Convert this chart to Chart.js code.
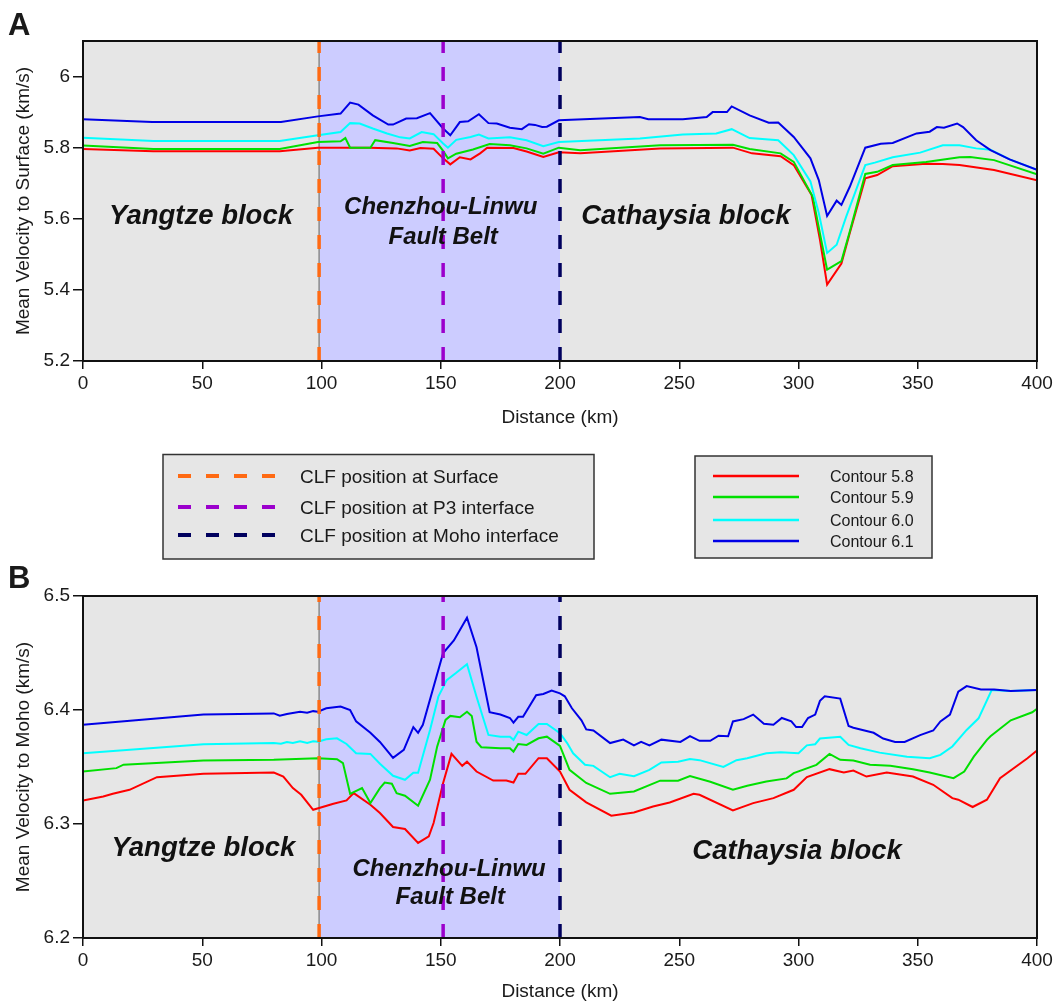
<!DOCTYPE html>
<html>
<head>
<meta charset="utf-8">
<script src="https://cdn.jsdelivr.net/npm/chart.js@4.4.1/dist/chart.umd.min.js"></script>
<style>
  body{margin:0;background:#fff;width:1059px;height:1004px;position:relative;overflow:hidden;font-family:'Liberation Sans',Arial,sans-serif}
  canvas{position:absolute;left:0}
  #surf{top:0}
  #moho{top:545px}
  svg{position:absolute;left:0;top:0}
  svg text{fill:#1a1a1a}
</style>
</head>
<body>
<canvas id="surf" width="1059" height="440"></canvas>
<canvas id="moho" width="1059" height="459"></canvas>
<svg width="1059" height="1004">
  <text x="8" y="35" font-size="31" font-weight="bold">A</text>
  <text x="8" y="588" font-size="31" font-weight="bold">B</text>

  <rect x="163" y="454.5" width="431" height="104.5" fill="#e6e6e6" stroke="#333" stroke-width="1.5"/>
  <line x1="178" x2="280" y1="476" y2="476" stroke="#ff6a13" stroke-width="4" stroke-dasharray="13 15"/>
  <line x1="178" x2="280" y1="507" y2="507" stroke="#9b00cc" stroke-width="4" stroke-dasharray="13 15"/>
  <line x1="178" x2="280" y1="535" y2="535" stroke="#00005e" stroke-width="4" stroke-dasharray="13 15"/>
  <text x="300" y="476" font-size="19" dominant-baseline="central">CLF position at Surface</text>
  <text x="300" y="507" font-size="19" dominant-baseline="central">CLF position at P3 interface</text>
  <text x="300" y="535" font-size="19" dominant-baseline="central">CLF position at Moho interface</text>

  <rect x="695" y="456" width="237" height="102" fill="#e6e6e6" stroke="#333" stroke-width="1.5"/>
  <line x1="713" x2="799" y1="476" y2="476" stroke="#ff0000" stroke-width="2.5"/>
  <line x1="713" x2="799" y1="497" y2="497" stroke="#00e000" stroke-width="2.5"/>
  <line x1="713" x2="799" y1="520" y2="520" stroke="#00ffff" stroke-width="2.5"/>
  <line x1="713" x2="799" y1="541" y2="541" stroke="#0000e6" stroke-width="2.5"/>
  <text x="830" y="476" font-size="16" dominant-baseline="central">Contour 5.8</text>
  <text x="830" y="497" font-size="16" dominant-baseline="central">Contour 5.9</text>
  <text x="830" y="520" font-size="16" dominant-baseline="central">Contour 6.0</text>
  <text x="830" y="541" font-size="16" dominant-baseline="central">Contour 6.1</text>
</svg>
<script>
// contour names, line colours and CLF positions (km)
const contours = ['Contour 5.8', 'Contour 5.9', 'Contour 6.0', 'Contour 6.1'];
const contourColors = ['#ff0000', '#00e000', '#00ffff', '#0000e6'];
const clfPositions = [99, 151, 200];
const clfColors = ['#ff6a13', '#9b00cc', '#00005e'];
const distanceTicks = [0, 50, 100, 150, 200, 250, 300, 350, 400];

// mean velocity to surface, [distance km, km/s]
const surface58 = [[0,5.796],[29.5,5.790],[82.5,5.790],[98.5,5.800],[120,5.800],[131.5,5.798],[137,5.792],[141.5,5.799],[147,5.797],[151,5.770],[154,5.753],[158,5.773],[162.5,5.767],[166.5,5.784],[169.5,5.800],[180.5,5.799],[186,5.789],[193,5.774],[199.5,5.787],[208.5,5.784],[242,5.798],[272.5,5.800],[280.5,5.784],[292.5,5.776],[298,5.751],[305.5,5.667],[309,5.541],[312,5.415],[318,5.474],[321.5,5.560],[328,5.714],[333,5.723],[339.5,5.748],[353.5,5.755],[360.5,5.754],[367.5,5.751],[382,5.737],[400,5.708]];
const surface59 = [[0,5.806],[29.5,5.796],[82.5,5.796],[98.5,5.816],[108,5.818],[110,5.827],[112,5.800],[120.5,5.800],[122.5,5.821],[130,5.813],[137,5.805],[142.5,5.816],[148.5,5.813],[151,5.791],[153,5.770],[156.5,5.783],[163.5,5.795],[170.5,5.810],[179,5.807],[186,5.798],[193,5.783],[199.5,5.800],[208.5,5.793],[242,5.807],[272.5,5.808],[279.5,5.796],[292.5,5.784],[298,5.760],[306,5.662],[309.5,5.541],[312,5.457],[318,5.481],[321.5,5.564],[328,5.726],[333,5.732],[339.5,5.751],[353.5,5.760],[367.5,5.773],[372,5.774],[382,5.765],[400,5.725]];
const surface60 = [[0,5.828],[29.5,5.819],[82.5,5.819],[98.5,5.835],[108,5.844],[112,5.869],[116,5.868],[121.5,5.854],[127.5,5.840],[133,5.829],[137,5.826],[142,5.844],[147,5.838],[151,5.812],[153,5.800],[156.5,5.822],[162.5,5.830],[166,5.837],[170,5.826],[179,5.829],[186,5.821],[193,5.804],[199.5,5.816],[233.5,5.826],[251.5,5.837],[265.5,5.840],[272,5.852],[279.5,5.827],[291.5,5.821],[298,5.779],[305,5.705],[308.5,5.616],[312,5.504],[316,5.527],[320,5.606],[328,5.751],[332,5.758],[339.5,5.773],[351,5.786],[360.5,5.807],[367.5,5.807],[374.5,5.798],[380.5,5.794],[388.5,5.767],[400,5.738]];
const surface61 = [[0,5.880],[29,5.872],[83,5.872],[98.5,5.888],[108,5.896],[112,5.927],[115.5,5.921],[121.5,5.891],[128,5.865],[130,5.865],[135.5,5.882],[140,5.883],[145.5,5.897],[151,5.854],[154,5.835],[158,5.872],[161.5,5.874],[166,5.894],[170,5.869],[173.5,5.868],[179,5.856],[184,5.852],[187,5.866],[189.5,5.864],[192.5,5.858],[194.5,5.859],[199.5,5.877],[233.5,5.886],[237,5.880],[251.5,5.880],[261.5,5.886],[264,5.900],[270,5.900],[272,5.916],[279.5,5.891],[287.5,5.870],[291.5,5.871],[298,5.830],[305,5.770],[308.5,5.709],[312,5.608],[316,5.651],[318,5.639],[321.5,5.690],[328,5.800],[334.5,5.811],[339.5,5.813],[349.5,5.840],[355,5.845],[358,5.858],[361,5.856],[366.5,5.868],[369,5.858],[374.5,5.821],[380.5,5.793],[388.5,5.767],[400,5.738]];

// mean velocity to Moho, [distance km, km/s]
const moho58 = [[0,6.3207],[8.5,6.3241],[12.5,6.3265],[19.5,6.330],[31,6.3411],[50.5,6.344],[80,6.3451],[84,6.3416],[88,6.3315],[91.5,6.3256],[96.5,6.3125],[105,6.3178],[110.5,6.3207],[113.5,6.3271],[120.5,6.3169],[124.5,6.3096],[130,6.2974],[135,6.2956],[140.5,6.2834],[145,6.2891],[147,6.3009],[151,6.3359],[154.5,6.3615],[159,6.351],[161,6.3547],[165,6.346],[172,6.3381],[177.5,6.3381],[180.5,6.3364],[182.5,6.344],[185.5,6.344],[191,6.3577],[194.5,6.3577],[200,6.346],[204,6.330],[211,6.319],[221.5,6.3073],[231,6.3101],[239,6.3154],[246,6.3189],[256,6.3265],[258.5,6.3256],[272.5,6.3119],[281,6.3183],[289.5,6.3227],[298,6.330],[303.5,6.3411],[313,6.3481],[319,6.3451],[323,6.3469],[328.5,6.3416],[337,6.3451],[348,6.3416],[356.5,6.3344],[364.5,6.3227],[367,6.3213],[373,6.3149],[379,6.3213],[384.5,6.3402],[396,6.3577],[400,6.3644]];
const moho59 = [[0,6.346],[14,6.349],[17,6.352],[50.5,6.3556],[80,6.3563],[98.5,6.3577],[106.5,6.3569],[109,6.3534],[112,6.3265],[117,6.3315],[120.5,6.3184],[124.5,6.3315],[126.5,6.3364],[129.5,6.3353],[131.5,6.3271],[135,6.3248],[140.5,6.316],[145.5,6.3388],[148.5,6.3679],[152,6.3913],[154,6.3948],[158,6.3936],[161,6.3985],[163,6.3948],[165,6.3722],[167,6.3674],[175,6.3665],[179,6.3665],[180.5,6.3635],[182.5,6.3702],[186,6.3694],[191,6.3752],[194.5,6.3766],[200,6.3685],[204,6.3475],[211,6.336],[221,6.3265],[231,6.3285],[242,6.338],[249.5,6.338],[254.5,6.342],[263,6.337],[272.5,6.330],[278.5,6.3335],[286.5,6.3373],[295,6.340],[298,6.3446],[307.5,6.3519],[313,6.3615],[317.5,6.3563],[323,6.3556],[330,6.3519],[338.5,6.351],[348,6.3481],[355,6.3451],[365,6.3402],[369.5,6.346],[373.5,6.3591],[379,6.3738],[380.5,6.377],[389,6.391],[398,6.398],[400,6.401]];
const moho60 = [[0,6.362],[50.5,6.370],[80,6.371],[83,6.3705],[85.5,6.372],[88,6.371],[91,6.3725],[94,6.371],[96.5,6.3725],[98.5,6.3722],[102,6.3744],[106.5,6.3752],[110.5,6.3702],[114.5,6.362],[120.5,6.3615],[124.5,6.3528],[130,6.3423],[135,6.3388],[138.5,6.345],[140.5,6.345],[145.5,6.3825],[149,6.4117],[152.5,6.4262],[156.5,6.4326],[161,6.4402],[165,6.4117],[170,6.3781],[175,6.3766],[179,6.3766],[180.5,6.3738],[182.5,6.381],[186,6.3781],[191,6.3877],[194.5,6.3877],[200,6.3796],[203,6.371],[205.5,6.362],[210.5,6.352],[214,6.351],[221,6.341],[225,6.344],[231,6.342],[237.5,6.3475],[242.5,6.354],[249.5,6.3547],[254.5,6.357],[258.5,6.356],[268.5,6.350],[274,6.356],[278.5,6.3577],[286.5,6.362],[292.5,6.363],[300,6.362],[303.5,6.369],[307,6.370],[309,6.375],[317.5,6.3766],[321,6.3694],[326,6.3665],[334,6.3626],[345.5,6.359],[355,6.3577],[359.5,6.3606],[364.5,6.368],[370.5,6.3825],[375.5,6.3927],[381,6.4175],[389,6.4166],[400,6.4175]];
const moho61 = [[0,6.387],[50.5,6.396],[80,6.397],[82.5,6.395],[85.5,6.3965],[91,6.3985],[94,6.3976],[96.5,6.399],[98.5,6.3985],[102,6.4015],[108,6.403],[112,6.400],[114.5,6.390],[120.5,6.380],[124.5,6.372],[130,6.358],[134.5,6.365],[138.5,6.385],[140.5,6.380],[142.5,6.387],[151,6.450],[155.5,6.461],[161,6.481],[165,6.455],[170.5,6.398],[175,6.396],[179,6.393],[180.5,6.389],[182.5,6.394],[184.5,6.394],[190,6.413],[193,6.414],[196.5,6.417],[200,6.4146],[202,6.412],[205,6.4015],[209,6.391],[211,6.383],[214,6.382],[221,6.371],[226.5,6.374],[231,6.369],[234,6.372],[237.5,6.369],[242.5,6.374],[250.5,6.372],[254.5,6.377],[258.5,6.373],[263,6.373],[266.5,6.3775],[270.5,6.377],[272.5,6.390],[277,6.392],[281,6.396],[285.5,6.388],[289.5,6.387],[293,6.393],[297,6.390],[299,6.385],[301.5,6.385],[304,6.393],[307,6.396],[309,6.408],[311,6.412],[317.5,6.410],[321,6.386],[323,6.3845],[331.5,6.380],[335.5,6.375],[340.5,6.372],[344.5,6.372],[351,6.378],[356.5,6.382],[359.5,6.390],[363.5,6.396],[367,6.416],[370.5,6.421],[376.5,6.418],[382,6.418],[389,6.4166],[400,6.4175]];

Chart.defaults.font.family = "'Liberation Sans', Arial, sans-serif";
Chart.defaults.color = '#1a1a1a';

const toPoints = rows => rows.map(([x, y]) => ({x, y}));

// grey plot area, fault belt band, CLF dashes, block names and frame
const panelDecor = {
  id: 'panelDecor',
  beforeDraw(chart) {
    const {ctx, chartArea: a, scales: {x}} = chart;
    const x0 = x.getPixelForValue(clfPositions[0]);
    const x1 = x.getPixelForValue(clfPositions[2]);
    ctx.save();
    ctx.fillStyle = '#e6e6e6';
    ctx.fillRect(a.left, a.top, a.width, a.height);
    ctx.fillStyle = '#ccccff';
    ctx.fillRect(x0, a.top, x1 - x0, a.height);
    ctx.strokeStyle = '#8a8a8a';
    ctx.lineWidth = 1.5;
    ctx.beginPath();
    ctx.moveTo(x0, a.top);
    ctx.lineTo(x0, a.bottom);
    ctx.stroke();
    ctx.restore();
  },
  afterDatasetsDraw(chart, args, opts) {
    const {ctx, chartArea: a, scales: {x, y}} = chart;
    ctx.save();
    ctx.lineWidth = 3.5;
    ctx.setLineDash([14, 14]);
    clfPositions.forEach((km, i) => {
      const px = x.getPixelForValue(km);
      ctx.strokeStyle = clfColors[i];
      ctx.beginPath();
      ctx.moveTo(px, a.bottom);
      ctx.lineTo(px, a.top);
      ctx.stroke();
    });
    ctx.setLineDash([]);
    ctx.fillStyle = '#111';
    ctx.textAlign = 'center';
    ctx.textBaseline = 'middle';
    (opts.labels || []).forEach(l => {
      ctx.font = `italic bold ${l.size}px 'Liberation Sans', Arial, sans-serif`;
      ctx.fillText(l.text, x.getPixelForValue(l.x), y.getPixelForValue(l.y));
    });
    ctx.strokeStyle = '#111';
    ctx.lineWidth = 2;
    ctx.strokeRect(a.left, a.top, a.width, a.height);
    ctx.restore();
  }
};

function makePanel(id, series, yOpts, axisH, titlePad, padTop, yTitle, labels) {
  return new Chart(document.getElementById(id), {
    type: 'line',
    data: {
      datasets: series.map((rows, i) => ({
        label: contours[i],
        data: toPoints(rows),
        borderColor: contourColors[i],
        borderWidth: 2,
        pointRadius: 0,
        tension: 0,
        order: series.length - i
      }))
    },
    options: {
      responsive: false,
      animation: false,
      layout: {padding: {top: padTop, right: 22, bottom: 0, left: 0}},
      plugins: {legend: {display: false}, tooltip: {enabled: false}, panelDecor: {labels}},
      scales: {
        x: {
          type: 'linear', min: 0, max: 400,
          afterFit: s => { s.height = axisH; },
          afterBuildTicks: s => { s.ticks = distanceTicks.map(v => ({value: v})); },
          ticks: {stepSize: 50, padding: 3, font: {size: 19}, color: '#1a1a1a'},
          grid: {drawOnChartArea: false, drawTicks: true, tickLength: 8, color: '#111', lineWidth: 1.5},
          border: {color: '#111', width: 2},
          title: {display: true, text: 'Distance (km)', font: {size: 19}, padding: {top: 0, bottom: titlePad}, color: '#1a1a1a'}
        },
        y: {
          min: yOpts.min, max: yOpts.max,
          afterFit: s => { s.width = 83; },
          afterBuildTicks: s => { s.ticks = yOpts.ticks.map(v => ({value: v})); },
          ticks: {stepSize: yOpts.step, padding: 3, font: {size: 19}, color: '#1a1a1a',
                  callback: v => String(+v.toFixed(1))},
          grid: {drawOnChartArea: false, drawTicks: true, tickLength: 10, color: '#111', lineWidth: 1.5},
          border: {color: '#111', width: 2},
          title: {display: true, text: yTitle, font: {size: 19}, padding: {top: 12, bottom: 0}, color: '#1a1a1a'}
        }
      }
    },
    plugins: [panelDecor]
  });
}

makePanel('surf', [surface58, surface59, surface60, surface61],
  {min: 5.2, max: 6.1, step: 0.2, ticks: [5.2, 5.4, 5.6, 5.8, 6.0]},
  79, 11, 41, 'Mean Velocity to Surface (km/s)',
  [{text: 'Yangtze block', x: 49.5, y: 5.608, size: 27.5},
   {text: 'Chenzhou-Linwu', x: 150, y: 5.631, size: 24},
   {text: 'Fault Belt', x: 151, y: 5.547, size: 24},
   {text: 'Cathaysia block', x: 252.8, y: 5.608, size: 27.5}]);

makePanel('moho', [moho58, moho59, moho60, moho61],
  {min: 6.2, max: 6.5, step: 0.1, ticks: [6.2, 6.3, 6.4, 6.5]},
  66, 1, 51, 'Mean Velocity to Moho (km/s)',
  [{text: 'Yangtze block', x: 50.5, y: 6.279, size: 27.5},
   {text: 'Chenzhou-Linwu', x: 153.5, y: 6.260, size: 24},
   {text: 'Fault Belt', x: 154, y: 6.236, size: 24},
   {text: 'Cathaysia block', x: 299.4, y: 6.276, size: 27.5}]);
</script>
</body>
</html>
